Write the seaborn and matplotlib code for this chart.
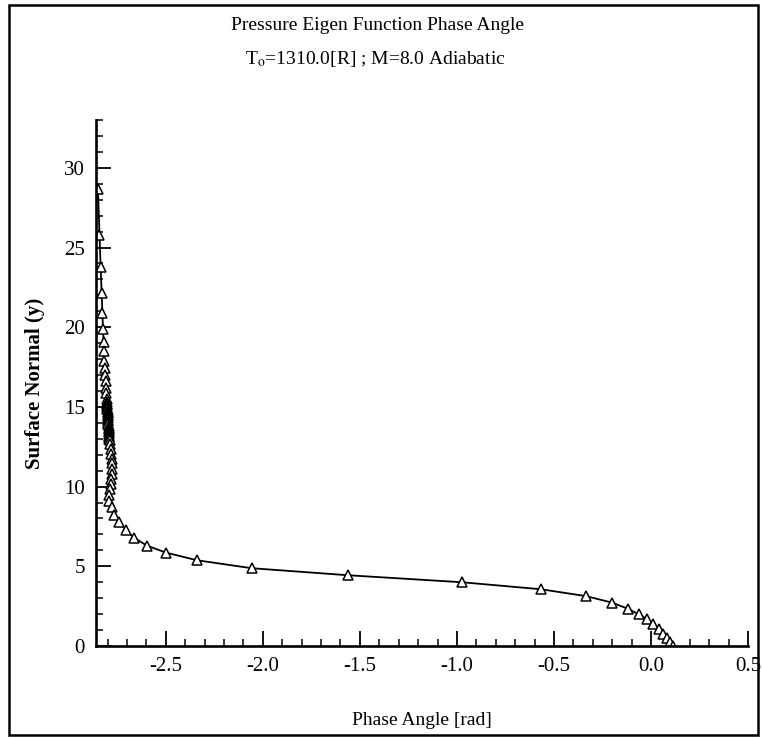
import matplotlib
matplotlib.use("Agg")
import matplotlib.pyplot as plt
from matplotlib.patches import Rectangle
from matplotlib.ticker import MultipleLocator
import seaborn as sns
import pandas as pd

# ---- data ----
surface_normal_y = [
    28.65, 25.8, 23.75, 22.15, 20.9, 19.9, 19.1, 18.5, 17.9, 17.45, 17.0, 16.6, 16.2, 15.85, 15.5,
    15.3, 15.2, 15.1, 15.0, 14.9, 14.8, 14.7, 14.6, 14.5, 14.4, 14.3, 14.2, 14.1, 14.0, 13.9,
    13.8, 13.7, 13.6, 13.5, 13.4, 13.3, 13.2, 13.1, 13.0, 12.9,
    12.65, 12.35, 12.05, 11.75, 11.45, 11.12, 10.8, 10.48, 10.17, 9.86, 9.5, 9.1, 8.7, 8.25,
    7.8, 7.27, 6.8, 6.3, 5.86, 5.38, 4.88, 4.44, 4.0, 3.56, 3.13, 2.72, 2.33, 1.98, 1.68,
    1.37, 1.06, 0.75, 0.5, 0.25, 0.0,
]
phase_angle = [
    -2.850, -2.842, -2.836, -2.831, -2.827, -2.824, -2.821, -2.819, -2.817, -2.815, -2.813,
    -2.811, -2.809, -2.807, -2.805,
    -2.803, -2.802, -2.802, -2.801, -2.801, -2.800, -2.800, -2.799, -2.799, -2.798, -2.798,
    -2.797, -2.797, -2.796, -2.796, -2.795, -2.795, -2.794, -2.794, -2.793, -2.793, -2.792,
    -2.792, -2.791, -2.790,
    -2.788, -2.785, -2.782, -2.780, -2.779, -2.779, -2.780, -2.782, -2.785, -2.789, -2.792,
    -2.792, -2.780, -2.766, -2.741, -2.706, -2.665, -2.598, -2.500, -2.340, -2.057, -1.562,
    -0.974, -0.567, -0.335, -0.200, -0.118, -0.062, -0.020, 0.010, 0.040, 0.062, 0.082,
    0.098, 0.113,
]
x_ticks = [-2.5, -2.0, -1.5, -1.0, -0.5, 0.0, 0.5]
x_tick_labels = ["-2.5", "-2.0", "-1.5", "-1.0", "-0.5", "0.0", "0.5"]
y_ticks = [0, 5, 10, 15, 20, 25, 30]
y_tick_labels = ["0", "5", "10", "15", "20", "25", "30"]

title_line1 = "Pressure Eigen Function Phase Angle"
title_line2 = r"T$_\mathrm{o}$=1310.0[R] ; M=8.0 Adiabatic"
x_label = "Phase Angle [rad]"
y_label = "Surface Normal (y)"

df = pd.DataFrame({"x": phase_angle, "y": surface_normal_y})

sns.set_style("ticks")
plt.rcParams["font.family"] = ["Liberation Serif", "DejaVu Serif"]
plt.rcParams["mathtext.fontset"] = "stix"
plt.rcParams["text.color"] = "black"
plt.rcParams["axes.labelcolor"] = "black"

fig = plt.figure(figsize=(7.63, 7.38), dpi=100)
ax = fig.add_axes([96 / 763, 1 - 646 / 738, (748 - 96) / 763, (646 - 120) / 738])

sns.lineplot(data=df, x="x", y="y", sort=False, estimator=None, ax=ax,
             color="black", linewidth=1.3, marker="^", markersize=6.5,
             markerfacecolor="white", markeredgecolor="black", markeredgewidth=1.1)

ax.set_xlim(-2.86, 0.5)
ax.set_ylim(0, 33)
ax.set_xticks(x_ticks)
ax.set_xticklabels(x_tick_labels)
ax.set_yticks(y_ticks)
ax.set_yticklabels(y_tick_labels)
ax.xaxis.set_minor_locator(MultipleLocator(0.1))
ax.yaxis.set_minor_locator(MultipleLocator(1))
ax.tick_params(which="major", direction="in", length=11, width=1.3, labelsize=15,
               colors="black", pad=8)
ax.tick_params(which="minor", direction="in", length=5, width=1.1, colors="black")
ax.set_xlabel(x_label, fontsize=14, labelpad=26)
ax.set_ylabel(y_label, fontsize=15, fontweight="bold", labelpad=14)

sns.despine(ax=ax)
for s in ("left", "bottom"):
    ax.spines[s].set_linewidth(1.9)
    ax.spines[s].set_color("black")

fig.text(0.495, 1 - 26 / 738, title_line1, ha="center", va="center", fontsize=14)
fig.text(0.492, 1 - 59 / 738, title_line2, ha="center", va="center", fontsize=14)

fig.patches.append(Rectangle((9 / 763, 3 / 738), (758 - 9) / 763, (733 - 3) / 738,
                             transform=fig.transFigure, fill=False,
                             edgecolor="black", linewidth=1.8))

fig.savefig("out.png", dpi=100)
